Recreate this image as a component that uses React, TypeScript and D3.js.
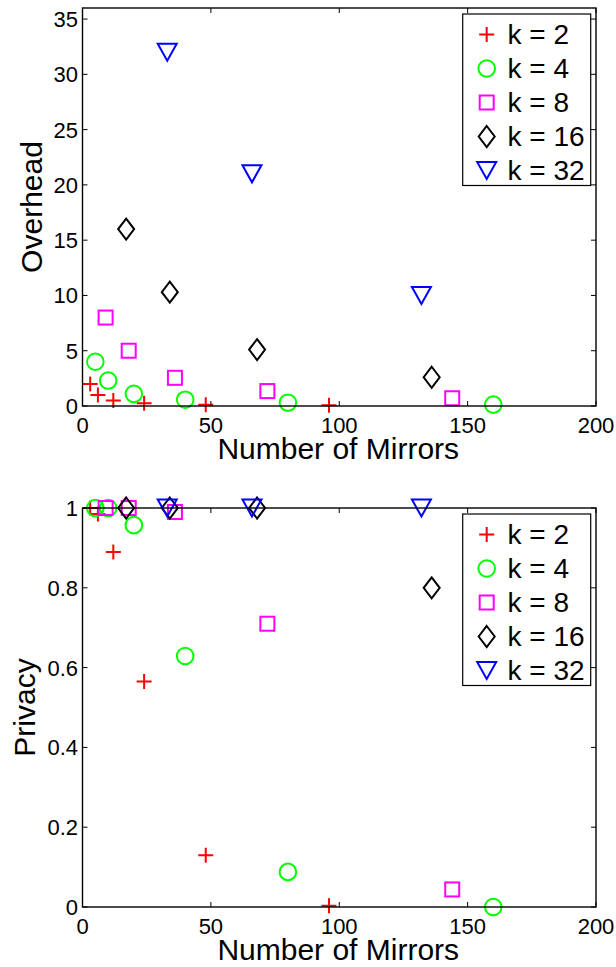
import React from "react";
import * as d3 from "d3";

const kLabels = ["k = 2", "k = 4", "k = 8", "k = 16", "k = 32"];
const kColors = ["#ff0000", "#00ff00", "#ff00ff", "#000000", "#0000ff"];
const kShapes = ["plus", "circle", "square", "diamond", "triangle"];

const mirrorsK2 = [3, 6, 12, 24, 48, 96];
const overheadK2 = [2, 1, 0.5, 0.25, 0.12, 0.06];
const privacyK2 = [1.0, 0.985, 0.89, 0.565, 0.13, 0.003];

const mirrorsK4 = [5, 10, 20, 40, 80, 160];
const overheadK4 = [4, 2.3, 1.1, 0.57, 0.3, 0.12];
const privacyK4 = [1.0, 1.0, 0.957, 0.629, 0.088, 0.0];

const mirrorsK8 = [9, 18, 36, 72, 144];
const overheadK8 = [8, 5, 2.55, 1.35, 0.7];
const privacyK8 = [1.0, 1.0, 0.99, 0.71, 0.044];

const mirrorsK16 = [17, 34, 68, 136];
const overheadK16 = [16, 10.3, 5.1, 2.6];
const privacyK16 = [1.0, 1.0, 1.0, 0.8];

const mirrorsK32 = [33, 66, 132];
const overheadK32 = [32, 21, 10];
const privacyK32 = [1.0, 1.0, 1.0];

const xTicks = [0, 50, 100, 150, 200];
const overheadTicks = [0, 5, 10, 15, 20, 25, 30, 35];
const privacyTicks = [0, 0.2, 0.4, 0.6, 0.8, 1];
const privacyTickLabels = ["0", "0.2", "0.4", "0.6", "0.8", "1"];

const mirrors = [mirrorsK2, mirrorsK4, mirrorsK8, mirrorsK16, mirrorsK32];
const overhead = [overheadK2, overheadK4, overheadK8, overheadK16, overheadK32];
const privacy = [privacyK2, privacyK4, privacyK8, privacyK16, privacyK32];

const FONT = "'Liberation Sans', Arial, Helvetica, sans-serif";

function Marker({ shape, x, y, color }: { shape: string; x: number; y: number; color: string }) {
  const sw = 2;
  if (shape === "plus") {
    const h = 7.5;
    return (
      <path d={`M${x - h},${y}H${x + h}M${x},${y - h}V${y + h}`} stroke={color} strokeWidth={sw} fill="none" />
    );
  }
  if (shape === "circle") {
    return <circle cx={x} cy={y} r={8.3} stroke={color} strokeWidth={sw} fill="none" />;
  }
  if (shape === "square") {
    const h = 7;
    return <rect x={x - h} y={y - h} width={2 * h} height={2 * h} stroke={color} strokeWidth={sw} fill="none" />;
  }
  if (shape === "diamond") {
    const w = 8, hh = 10.5;
    return (
      <path d={`M${x},${y - hh}L${x + w},${y}L${x},${y + hh}L${x - w},${y}Z`} stroke={color} strokeWidth={sw} fill="none" />
    );
  }
  const w = 9.5, hh = 8.5;
  return (
    <path d={`M${x - w},${y - hh}L${x + w},${y - hh}L${x},${y + hh}Z`} stroke={color} strokeWidth={sw} fill="none" />
  );
}

function Panel({
  top, bottom, yDomain, yTicks, yTickLabels, yLabel, yLabelX, values,
}: {
  top: number; bottom: number; yDomain: [number, number]; yTicks: number[]; yTickLabels: string[];
  yLabel: string; yLabelX: number; values: number[][];
}) {
  const left = 82.5, right = 596;
  const x = d3.scaleLinear().domain([0, 200]).range([left, right]);
  const y = d3.scaleLinear().domain(yDomain).range([bottom, top]);
  const tl = 5;
  const legX = 462.7, legY = top + 6, legW = 128, legH = 171.5;
  return (
    <g>
      {/* markers */}
      {values.map((vals, s) =>
        vals.map((v, i) => (
          <Marker key={`${s}-${i}`} shape={kShapes[s]} x={x(mirrors[s][i])} y={y(v)} color={kColors[s]} />
        ))
      )}
      {/* box */}
      <rect x={left} y={top} width={right - left} height={bottom - top} fill="none" stroke="#000" strokeWidth={1.4} />
      {/* x ticks */}
      {xTicks.map((t) => (
        <g key={"x" + t}>
          <line x1={x(t)} x2={x(t)} y1={bottom} y2={bottom - tl} stroke="#000" strokeWidth={1} />
          <line x1={x(t)} x2={x(t)} y1={top} y2={top + tl} stroke="#000" strokeWidth={1} />
          <text x={x(t)} y={bottom + 27} textAnchor="middle" fontSize={22} fontFamily={FONT} fill="#000">
            {t}
          </text>
        </g>
      ))}
      {/* y ticks */}
      {yTicks.map((t, i) => (
        <g key={"y" + t}>
          <line x1={left} x2={left + tl} y1={y(t)} y2={y(t)} stroke="#000" strokeWidth={1} />
          <line x1={right} x2={right - tl} y1={y(t)} y2={y(t)} stroke="#000" strokeWidth={1} />
          <text x={78} y={y(t) + 8} textAnchor="end" fontSize={22} fontFamily={FONT} fill="#000">
            {yTickLabels[i]}
          </text>
        </g>
      ))}
      {/* labels */}
      <text x={(left + right) / 2 - 1} y={bottom + 53} textAnchor="middle" fontSize={30} fontFamily={FONT} fill="#000">
        Number of Mirrors
      </text>
      <text
        transform={`translate(${yLabelX},${(top + bottom) / 2}) rotate(-90)`}
        textAnchor="middle"
        fontSize={30}
        fontFamily={FONT}
        fill="#000"
      >
        {yLabel}
      </text>
      {/* legend */}
      <rect x={legX} y={legY} width={legW} height={legH} fill="#fff" stroke="#000" strokeWidth={1.2} />
      {kLabels.map((lab, i) => {
        const cy = legY + 20.5 + i * 34;
        return (
          <g key={lab}>
            <Marker shape={kShapes[i]} x={486.7} y={cy} color={kColors[i]} />
            <text x={507.5} y={cy + 9} fontSize={28} fontFamily={FONT} fill="#000">
              {lab}
            </text>
          </g>
        );
      })}
    </g>
  );
}

export default function App() {
  return (
    <svg
      width={616}
      height={967}
      style={{ position: "absolute", left: 0, top: 0, background: "#fff" }}
    >
      <rect x={0} y={0} width={616} height={967} fill="#fff" />
      <Panel
        top={8}
        bottom={406}
        yDomain={[0, 36]}
        yTicks={overheadTicks}
        yTickLabels={overheadTicks.map(String)}
        yLabel="Overhead"
        yLabelX={42}
        values={overhead}
      />
      <Panel
        top={508}
        bottom={907}
        yDomain={[0, 1]}
        yTicks={privacyTicks}
        yTickLabels={privacyTickLabels}
        yLabel="Privacy"
        yLabelX={35}
        values={privacy}
      />
    </svg>
  );
}
